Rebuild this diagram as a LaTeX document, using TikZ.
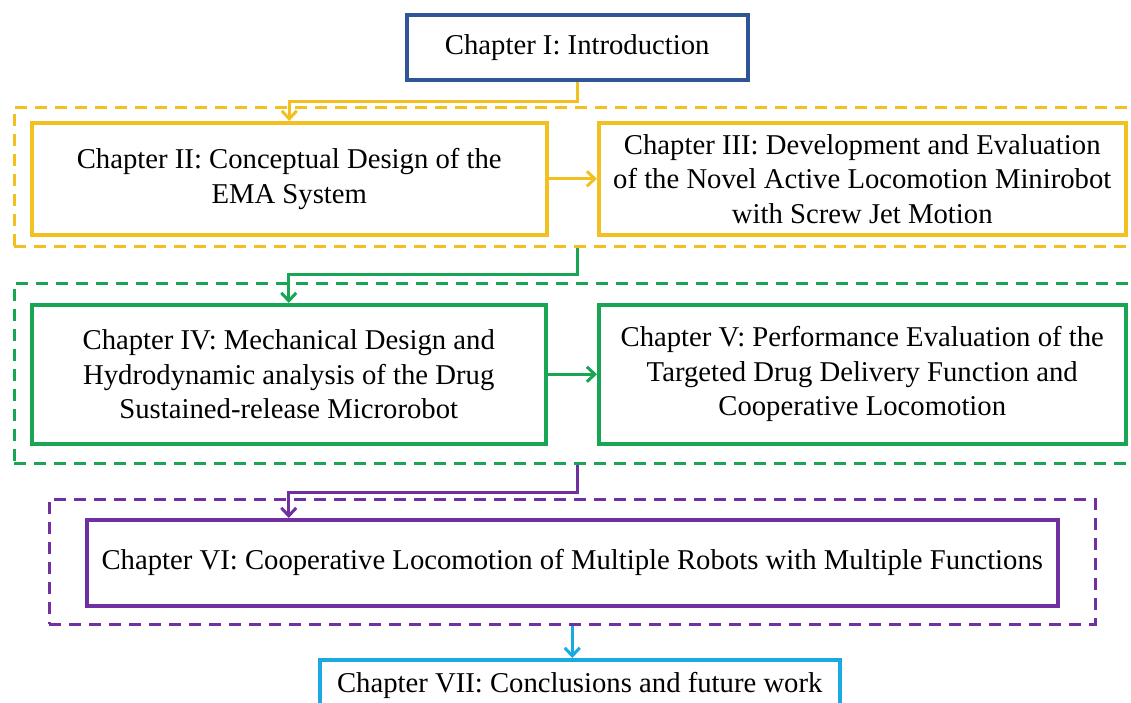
\documentclass[tikz,border=0pt]{standalone}
\usepackage{fontspec}
\setmainfont{Liberation Serif}
\definecolor{chblue}{RGB}{47,85,151}
\definecolor{chgold}{RGB}{242,192,32}
\definecolor{chgreen}{RGB}{24,166,84}
\definecolor{chpurple}{RGB}{112,48,160}
\definecolor{chcyan}{RGB}{24,170,225}
\usetikzlibrary{arrows.meta, positioning}

\begin{document}
\begin{tikzpicture}[x=1pt, y=-1pt,
  chbox/.style={draw, line width=3.5pt, anchor=north west, inner sep=0pt, align=center, font=\fontsize{28.7}{34.5}\selectfont},
  grpbox/.style={draw, line width=2.8pt, dash pattern=on 12pt off 8pt, anchor=north west, inner sep=0pt},
  flow/.style={line width=3pt, -{Straight Barb[length=8pt, width=15pt]}}]
  \useasboundingbox (0,0) rectangle (1131,702);
  \clip (0,0) rectangle (1131,702);

  \node[grpbox, draw=chgold, minimum width=1137pt, minimum height=139pt] (grp1) at (13,106) {};
  \node[grpbox, draw=chgreen, minimum width=1137pt, minimum height=180pt] (grp2) at (13,282) {};
  \node[grpbox, draw=chpurple, minimum width=1046pt, minimum height=125pt] (grp3) at (48,498) {};

  \node[chbox, draw=chblue, minimum width=341pt, minimum height=65pt] (intro) at (405,13) {Chapter I: Introduction};
  \node[chbox, draw=chgold, minimum width=515pt, minimum height=112pt] (ch2) at (30,121) {Chapter II: Conceptual Design of the\\EMA System};
  \node[chbox, draw=chgold, minimum width=527pt, minimum height=112pt] (ch3) at (597,121) {Chapter III: Development and Evaluation\\of the Novel Active Locomotion Minirobot\\with Screw Jet Motion};
  \node[chbox, draw=chgreen, minimum width=514pt, minimum height=139pt] (ch4) at (30,303) {Chapter IV: Mechanical Design and\\Hydrodynamic analysis of the Drug\\Sustained-release Microrobot};
  \node[chbox, draw=chgreen, minimum width=527pt, minimum height=139pt] (ch5) at (597,303) {Chapter V: Performance Evaluation of the\\Targeted Drug Delivery Function and\\Cooperative Locomotion};
  \node[chbox, draw=chpurple, minimum width=971pt, minimum height=86pt] (ch6) at (85,518) {Chapter VI: Cooperative Locomotion of Multiple Robots with Multiple Functions};
  \node[chbox, draw=chcyan, minimum width=520pt, minimum height=52pt] (ch7) at (318,658) {Chapter VII: Conclusions and future work};

  \draw[flow, chgold] (intro.south) -- ++(0,20) -| (ch2.north);
  \draw[flow, chgold] (ch2.east) -- (ch3.west);
  \draw[flow, chgreen] (grp1.south -| intro.south) -- ++(0,27) -| (ch4.north);
  \draw[flow, chgreen] (ch4.east) -- (ch5.west);
  \draw[flow, chpurple] (grp2.south -| intro.south) -- ++(0,28) -| (ch6.north -| ch4.south);
  \draw[flow, chcyan] (grp3.south -| ch6.south) -- (ch7.north -| ch6.south);
\end{tikzpicture}
\end{document}
